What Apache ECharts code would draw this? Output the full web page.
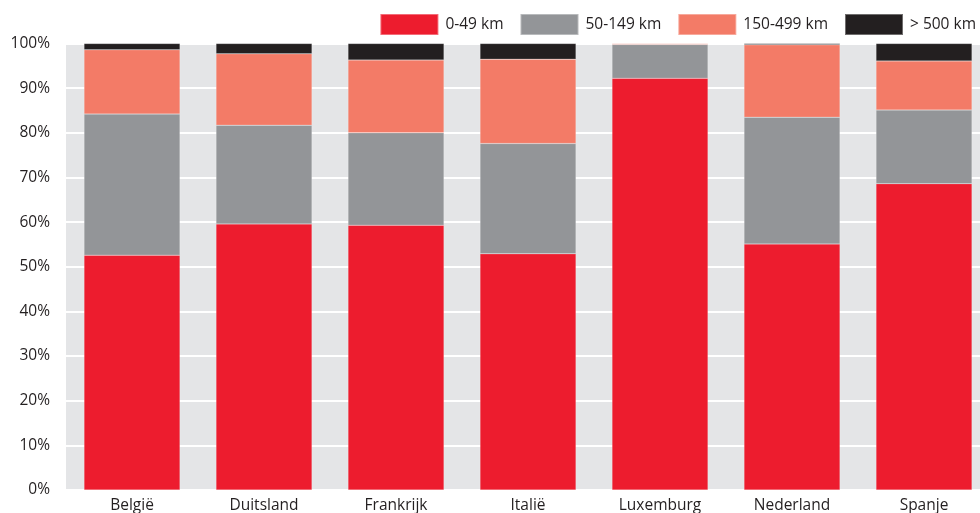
<!DOCTYPE html>
<html>
<head>
<meta charset="utf-8">
<script src="https://cdn.jsdelivr.net/npm/echarts@6/dist/echarts.min.js"></script>
<style>html,body{margin:0;padding:0;background:#fff}#c{width:980px;height:513px}</style>
</head>
<body>
<div id="c"></div>
<script>
var categories = ['België', 'Duitsland', 'Frankrijk', 'Italië', 'Luxemburg', 'Nederland', 'Spanje'];
var seriesNames = ['0-49 km', '50-149 km', '150-499 km', '> 500 km'];
var km0_49    = [52.6, 59.6, 59.3, 52.9, 92.2, 55.1, 68.6];
var km50_149  = [31.6, 22.1, 20.7, 24.7, 7.6, 28.4, 16.5];
var km150_499 = [14.4, 16.0, 16.3, 18.9, 0.2, 16.2, 11.0];
var km500plus = [1.4, 2.3, 3.7, 3.5, 0.0, 0.3, 3.9];
var yTicks = [0, 10, 20, 30, 40, 50, 60, 70, 80, 90, 100];

var colors = ['#ed1c2e', '#939598', '#f37b67', '#231f20'];
var dataSets = [km0_49, km50_149, km150_499, km500plus];

var chart = echarts.init(document.getElementById('c'));
chart.setOption({
  animation: false,
  textStyle: { fontFamily: 'Open Sans' },
  legend: {
    data: seriesNames,
    right: 4,
    top: 13,
    padding: 0,
    itemWidth: 58,
    itemHeight: 21,
    itemGap: 16,
    icon: 'rect',
    textStyle: { fontSize: 15.5, color: '#231f20', fontFamily: 'Open Sans', padding: [0, 0, 0, 2] }
  },
  grid: {
    left: 66, width: 924, top: 43.5, bottom: 23,
    outerBoundsMode: 'none',
    containLabel: false,
    show: true, backgroundColor: '#e4e5e7', borderWidth: 0
  },
  xAxis: {
    type: 'category',
    data: categories,
    axisLine: { show: false },
    axisTick: { show: false },
    axisLabel: { fontSize: 15.5, color: '#231f20', margin: 8, fontFamily: 'Open Sans' }
  },
  yAxis: {
    type: 'value',
    min: yTicks[0], max: yTicks[yTicks.length - 1], interval: 10,
    axisLine: { show: false },
    axisTick: { show: false },
    axisLabel: { fontSize: 15.5, color: '#231f20', margin: 16, formatter: '{value}%', fontFamily: 'Open Sans' },
    splitLine: { show: true, lineStyle: { color: '#ffffff', width: 2 } }
  },
  series: seriesNames.map(function (n, i) {
    return {
      name: n,
      type: 'bar',
      stack: 'total',
      barWidth: 96,
      itemStyle: { color: colors[i], borderColor: 'rgba(255,255,255,0.35)', borderWidth: 0.5 },
      data: dataSets[i]
    };
  })
});
</script>
</body>
</html>
